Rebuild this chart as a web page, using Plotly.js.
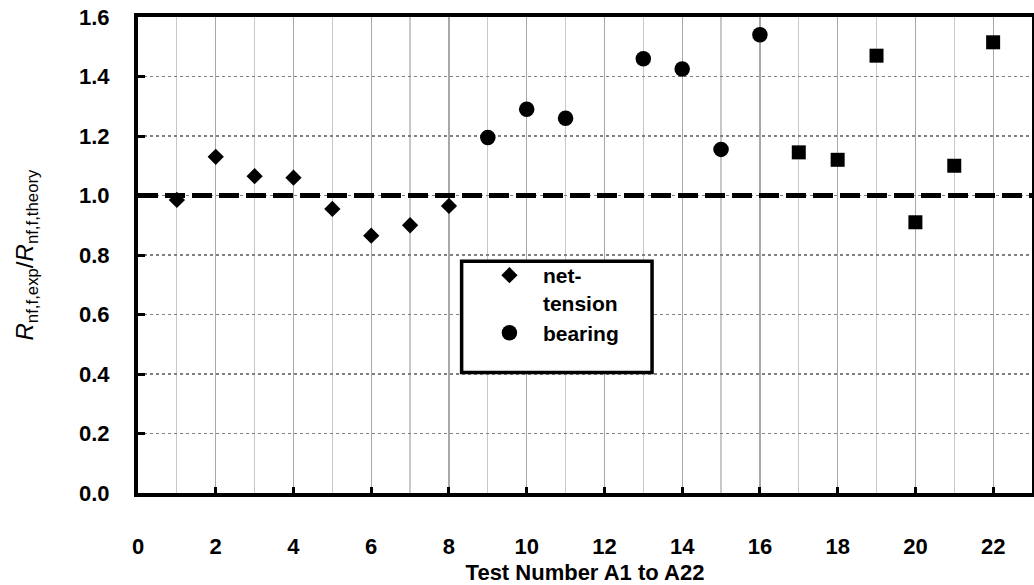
<!DOCTYPE html>
<html>
<head>
<meta charset="utf-8">
<script src="https://cdn.plot.ly/plotly-3.0.1.min.js"></script>
<style>html,body{margin:0;padding:0;background:#fff;}#chart{width:1034px;height:585px;}</style>
</head>
<body>
<div id="chart"></div>
<script>
// Data
const netTensionTests = [1, 2, 3, 4, 5, 6, 7, 8];
const netTensionRatio = [0.985, 1.13, 1.065, 1.06, 0.955, 0.865, 0.90, 0.965];
const bearingTests = [9, 10, 11, 13, 14, 15, 16];
const bearingRatio = [1.195, 1.29, 1.26, 1.46, 1.425, 1.155, 1.54];
const otherTests = [17, 18, 19, 20, 21, 22];
const otherRatio = [1.145, 1.12, 1.47, 0.91, 1.10, 1.515];
const refLineX = [0, 23];
const refLineY = [1.0, 1.0];
const xTickVals = [0, 2, 4, 6, 8, 10, 12, 14, 16, 18, 20, 22];
const yTickVals = [0.0, 0.2, 0.4, 0.6, 0.8, 1.0, 1.2, 1.4, 1.6];
const yTickText = ['0.0', '0.2', '0.4', '0.6', '0.8', '1.0', '1.2', '1.4', '1.6'];
const legendNames = ['net-<br>tension', 'bearing'];

const FONT = 'Liberation Sans, Arial, sans-serif';

const traces = [
  {
    x: refLineX, y: refLineY, mode: 'lines', showlegend: false, hoverinfo: 'skip',
    line: {color: '#000', width: 5, dash: '20px,7px'}
  },
  {
    x: netTensionTests, y: netTensionRatio, mode: 'markers', name: legendNames[0],
    marker: {symbol: 'diamond', size: 12.5, color: '#000'}
  },
  {
    x: bearingTests, y: bearingRatio, mode: 'markers', name: legendNames[1],
    marker: {symbol: 'circle', size: 15.5, color: '#000'}
  },
  {
    x: otherTests, y: otherRatio, mode: 'markers', showlegend: false,
    marker: {symbol: 'square', size: 14, color: '#000'}
  }
];

const layout = {
  width: 1034, height: 585,
  margin: {l: 138, r: 2, t: 17, b: 92},
  paper_bgcolor: '#fff', plot_bgcolor: '#fff',
  font: {family: FONT, size: 21, color: '#000', weight: 'bold'},
  showlegend: true,
  legend: {
    x: 0.378, y: 0.50, xanchor: 'left', yanchor: 'top',
    bgcolor: 'rgba(0,0,0,0)', borderwidth: 0,
    itemwidth: 57, valign: 'top',
    font: {family: FONT, size: 21, color: '#000', weight: 'bold'}
  },
  shapes: [{
    type: 'rect', xref: 'paper', yref: 'paper',
    x0: 0.362, x1: 0.575, y0: 0.253, y1: 0.487,
    line: {color: '#000', width: 3.5}, fillcolor: '#fff', layer: 'above'
  }],
  xaxis: {
    range: [0, 23], tickvals: xTickVals, ticktext: xTickVals.map(String),
    ticks: 'inside', ticklen: 6, tickwidth: 3, tickcolor: '#000',
    ticklabelstandoff: 31,
    showgrid: true, gridcolor: '#a8a8a8', gridwidth: 1.2,
    minor: {dtick: 1, tick0: 0, showgrid: true, gridcolor: '#c8c8c8', gridwidth: 1.2, ticks: ''},
    showline: true, linecolor: '#000', linewidth: 4, mirror: true,
    zeroline: false,
    tickfont: {family: FONT, size: 22, weight: 'bold'},
    title: {text: 'Test Number A1 to A22', font: {family: FONT, size: 22, weight: 'bold'}, standoff: 12},
    automargin: false
  },
  yaxis: {
    range: [0, 1.6], tickvals: yTickVals, ticktext: yTickText,
    ticks: 'inside', ticklen: 7, tickwidth: 3, tickcolor: '#000',
    ticklabelstandoff: 20,
    showgrid: true, gridcolor: '#808080', gridwidth: 1.5, griddash: 'dot',
    showline: true, linecolor: '#000', linewidth: 4, mirror: true,
    zeroline: false,
    tickfont: {family: FONT, size: 22, weight: 'bold'},
    title: {text: '<i>R</i><sub>nf,f,exp</sub>/<i>R</i><sub>nf,f,theory</sub>', font: {family: FONT, size: 24, weight: 'normal'}, standoff: 40},
    automargin: false
  }
};

Plotly.newPlot('chart', traces, layout, {displayModeBar: false, staticPlot: true});
</script>
</body>
</html>
